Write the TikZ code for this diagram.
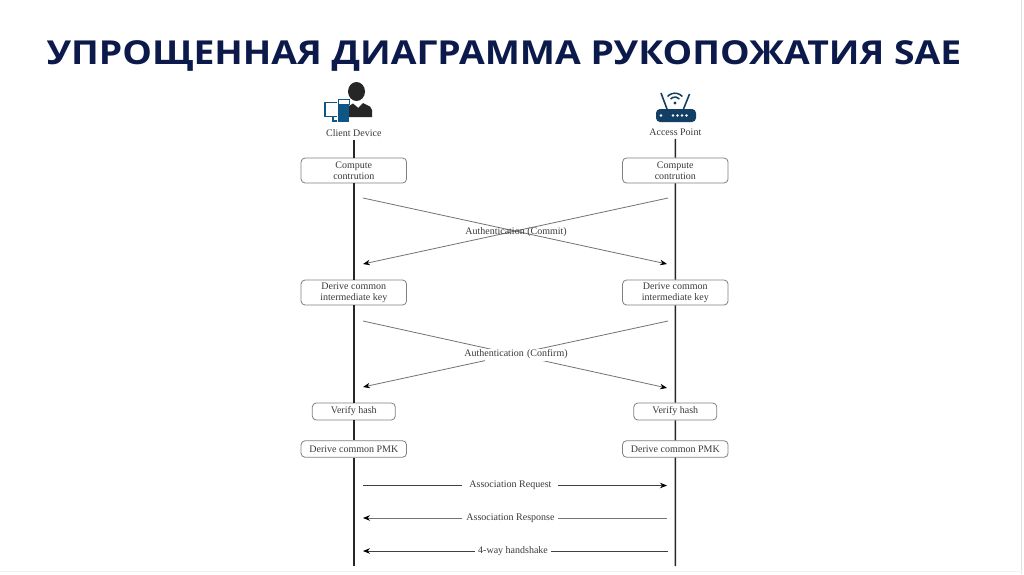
\documentclass[tikz,border=0pt]{standalone}
\usepackage{fontspec}
\setmainfont{Liberation Serif}
\newfontfamily\titlefont{Open Sans}
\usepackage{xcolor}
\usetikzlibrary{positioning,arrows.meta}
\definecolor{titlenavy}{HTML}{0B1A4A}
\definecolor{iconblue}{HTML}{0F5585}
\definecolor{routerblue}{HTML}{123F63}
\definecolor{persondark}{HTML}{262626}
\definecolor{msgtext}{HTML}{3A3A3A}

\begin{document}
\begin{tikzpicture}[
  x=1pt, y=-1pt, font=\fontsize{10}{11}\selectfont, text=msgtext,
  >={Stealth[length=7pt,width=5.5pt,color=black]},
  stagebox/.style={draw=black!50, line width=0.8pt, rounded corners=4pt, align=center, inner sep=0pt,
                   fill=white, minimum height=25pt, minimum width=105.5pt},
  hashbox/.style={stagebox, minimum height=17pt, minimum width=83pt},
  pmkbox/.style={stagebox, minimum height=16.5pt},
  life/.style={draw=black!85, line width=1.4pt},
  msg/.style={draw=black!55, line width=0.8pt, ->},
  msgdark/.style={msg, draw=black!75},
  msglabel/.style={fill=white, inner xsep=5pt, inner ysep=2.5pt}
]
\useasboundingbox (0,0) rectangle (1024,574);
\fill[white] (0,0) rectangle (1024,574);
\draw[black!12, line width=1pt] (1021.5,0) -- (1021.5,574);
\draw[black!5, line width=1pt] (0,571.5) -- (1021.5,571.5);

\node[font=\titlefont\bfseries\fontsize{33}{38}\selectfont, text=titlenavy, xscale=1.13] (title) at (504,56)
  {УПРОЩЕННАЯ ДИАГРАММА РУКОПОЖАТИЯ SAE};

% actors
\node (client) at (353.8,133) {Client Device};
\node (ap) at (675.3,132) {Access Point};

% client icon
\draw[iconblue, line width=1.4pt] (337,102.5) -- (325,102.5) -- (325,116.5) -- (337,116.5)
  (333,116.5) -- (333,121) -- (337,121);
\fill[iconblue] (338,104) rectangle (349,122);
\draw[iconblue, line width=1pt, fill=white] (338,99.5) rectangle (349,104);
\fill[persondark] (356.5,91.5) ellipse (8.5 and 9.5);
\fill[persondark] (349,117) -- (349,106) -- (353,103.5) -- (356,106) -- (358,108) -- (360,106)
  -- (363,103) -- (366,104.5) -- (370,106.5) -- (372,110) -- (372,117) -- cycle;

% router icon
\fill[routerblue, rounded corners=4pt] (656,109) rectangle (696,122);
\draw[routerblue, line width=1.6pt] (661,93) -- (667,109) (689.5,94) -- (683.5,109);
\fill[routerblue] (675,103) circle (1.7);
\draw[routerblue, line width=1.5pt] (670.5,99) arc (222:318:6);
\draw[routerblue, line width=1.5pt] (667.5,96.5) arc (222:318:10);
\foreach \dotx in {661,673,677.5,682,686.5}
  \fill[white] (\dotx,115.5) circle (1.3);

% left column
\node[stagebox] (computeA) at (353.8,170.5) {Compute\\contrution};
\node[stagebox, below=96.2pt of computeA] (keyA) {Derive common\\intermediate key};
\node[hashbox, below=97.2pt of keyA] (hashA) {Verify hash};
\node[pmkbox, below=19.95pt of hashA] (pmkA) {Derive common PMK};

% right column
\node[stagebox, right=215.2pt of computeA] (computeB) {Compute\\contrution};
\node[stagebox, right=215.2pt of keyA] (keyB) {Derive common\\intermediate key};
\node[hashbox, right=237.7pt of hashA] (hashB) {Verify hash};
\node[pmkbox, right=215.2pt of pmkA] (pmkB) {Derive common PMK};

\coordinate (endA) at (353.8,566);
\coordinate (endB) at (675.3,566);

% lifelines
\draw[life] (client) -- (computeA) -- (keyA) -- (hashA) -- (pmkA) -- (endA);
\draw[life] (ap) -- (computeB) -- (keyB) -- (hashB) -- (pmkB) -- (endB);

% free ends of the messages
\coordinate (c1a) at (363,198);   \coordinate (c1b) at (667,264);
\coordinate (c2a) at (668,198);   \coordinate (c2b) at (363,264);
\coordinate (f1a) at (363,321);   \coordinate (f1b) at (667,388);
\coordinate (f2a) at (668,321);   \coordinate (f2b) at (363,387);
\coordinate (reqa) at (363,485.5);  \coordinate (reqb) at (667,485.5);
\coordinate (resa) at (667,518);  \coordinate (resb) at (363,518);
\coordinate (waya) at (668,551);  \coordinate (wayb) at (363,551);

\draw[msg] (c1a) -- (c1b);
\draw[msg] (c2a) -- (c2b);
\node (commit) at (516,232) {Authentication (Commit)};

\draw[msg] (f1a) -- (f1b);
\draw[msg] (f2a) -- (f2b);
\node[fill=white, inner xsep=0pt, inner ysep=1pt, minimum height=12pt, text width=62pt, align=center] (confirm) at (516,354.5) {\makebox[0pt]{Authentication (Confirm)}};

\draw[msgdark] (reqa) -- node[msglabel, inner xsep=7pt, pos=0.485] (req) {Association Request} (reqb);
\draw[msg] (resa) -- node[msglabel, inner xsep=4pt, pos=0.515] (res) {Association Response} (resb);
\draw[msgdark] (waya) -- node[msglabel, inner xsep=3pt, pos=0.508] (way) {4-way handshake} (wayb);
\end{tikzpicture}
\end{document}
